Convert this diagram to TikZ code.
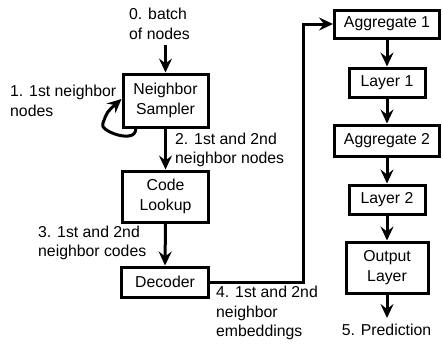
\documentclass[tikz,border=0pt]{standalone}
\usepackage{fontspec}
\setmainfont{Liberation Sans}
\usetikzlibrary{arrows.meta}
\begin{document}
\begin{tikzpicture}[x=1pt,y=-1pt,
  every node/.style={font=\fontsize{15.8}{19.5}\selectfont},
  box/.style={draw,line width=3pt,minimum width=#1,inner sep=0pt,align=center},
  lbl/.style={align=left,inner sep=0pt,anchor=west},
  arr/.style={line width=3pt,-{Stealth[length=14pt,width=13pt,inset=5pt]}}]
\useasboundingbox (0,0) rectangle (443,348);
\node[box=85pt,minimum height=53pt] (ns) at (165.5,100.5) {Neighbor\\Sampler};
\node[box=86pt,minimum height=51pt] (cl) at (165.5,196.5) {Code\\Lookup};
\node[box=87pt,minimum height=30pt] (dec) at (165,282) {Decoder};
\node[box=105pt,minimum height=28pt] (ag1) at (387,24) {Aggregate 1};
\node[box=76pt,minimum height=29pt] (l1) at (387,82.5) {Layer 1};
\node[box=105pt,minimum height=31pt] (ag2) at (387,140.5) {Aggregate 2};
\node[box=76pt,minimum height=29pt] (l2) at (387,199.5) {Layer 2};
\node[box=82pt,minimum height=51pt] (out) at (387,267.5) {Output\\Layer};
\node[inner sep=0pt] (pred) at (386.5,330) {5. Prediction};
\node[lbl] (t0) at (129,24) {0. batch\\of nodes};
\node[lbl] (t1) at (10,101) {1. 1st neighbor\\nodes};
\node[lbl] (t2) at (175,150) {2. 1st and 2nd\\neighbor nodes};
\node[lbl] (t3) at (38,243) {3. 1st and 2nd\\neighbor codes};
\node[lbl] (t4) at (216,313) {4. 1st and 2nd\\neighbor\\embeddings};
\coordinate (c1) at (303,282);
\coordinate (c2) at (303,24);
\coordinate (pe) at (387,318);
\draw[arr] (165.5,45) -- (ns.north);
\draw[arr] (ns.south) -- (cl.north);
\draw[arr] (cl.south) -- (dec.north);
\draw[arr] (dec.east) -- (c1) -- (c2) -- (ag1.west);
\draw[arr] (ag1) -- (l1);
\draw[arr] (l1) -- (ag2);
\draw[arr] (ag2) -- (l2);
\draw[arr] (l2) -- (out);
\draw[arr] (out.south) -- (pe);
\draw[arr] ([xshift=14pt,yshift=1pt]ns.south west) .. controls +(3,18) and +(-6,8) .. (103,123) .. controls (107,112) .. ([yshift=1.5pt]ns.west);
\end{tikzpicture}
\end{document}
